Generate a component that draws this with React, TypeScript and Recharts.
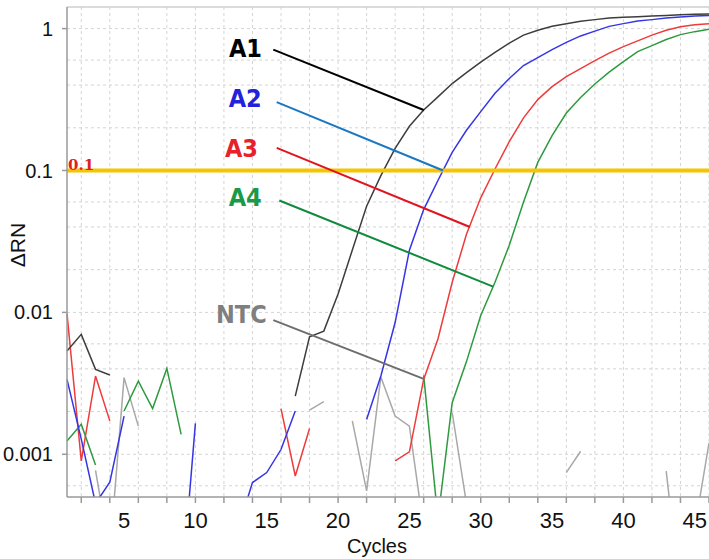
import React from 'react';
import { LineChart, Line, XAxis, YAxis, CartesianGrid, ReferenceLine, ReferenceDot } from 'recharts';

// qPCR amplification plot, ΔRN on a log axis
const cycles = [
  1, 2, 3, 4, 5, 6, 7, 8, 9, 10, 11, 12, 13, 14, 15, 16, 17, 18, 19, 20, 21, 22, 23,
  24, 25, 26, 27, 28, 29, 30, 31, 32, 33, 34, 35, 36, 37, 38, 39, 40, 41, 42, 43, 44, 45, 46,
];

const a1 = [
  0.00534, 0.007, 0.00397, 0.00362, null, null, null, null, null, null, null, null, null, null, null, null,
  0.00257, 0.00674, 0.00738, 0.0135, 0.0275, 0.056, 0.092, 0.143, 0.205, 0.267, 0.33, 0.41, 0.49, 0.58,
  0.68, 0.79, 0.9, 0.975, 1.04, 1.084, 1.127, 1.157, 1.19, 1.2, 1.21, 1.225, 1.239, 1.25, 1.26, 1.27,
];

const a2 = [
  0.00337, 0.00128, 0.00045, 0.000635, 0.00186, null, null, null, 0.0001, 0.00165, null, null, 0.0003, 0.000632,
  0.000743, 0.00108, 0.00202, null, null, null, null, 0.00176, 0.00356, 0.00848, 0.0274, 0.053, 0.085, 0.134,
  0.192, 0.26, 0.35, 0.445, 0.549, 0.625, 0.711, 0.8, 0.888, 0.96, 1.037, 1.084, 1.13, 1.157, 1.186, 1.205,
  1.225, 1.235,
];

const a3 = [
  0.0098, 0.000897, 0.00356, 0.00172, null, null, null, null, null, null, null, null, null, null, null,
  0.0021, 0.000703, 0.00152, null, null, null, null, null, 0.000897, 0.00104, 0.00337, 0.0065, 0.0163, 0.0355,
  0.0642, 0.1025, 0.16, 0.235, 0.316, 0.39, 0.459, 0.523, 0.595, 0.672, 0.747, 0.82, 0.9, 0.975, 1.03, 1.064,
  1.084,
];

const a4 = [
  0.00124, 0.00163, 0.00084, null, 0.00202, 0.00328, 0.0021, 0.00403, 0.00138, null, null, null, null, null,
  null, null, null, null, null, null, null, null, null, null, null, 0.0036, 0.00035, 0.00231, 0.0045, 0.0095,
  0.0163, 0.0297, 0.06, 0.114, 0.176, 0.254, 0.327, 0.407, 0.494, 0.586, 0.689, 0.759, 0.837, 0.907, 0.952, 0.99,
];

const ntc = [
  null, null, 0.00077, 0.0002, 0.00347, 0.00158, null, null, null, null, null, null, null, null, null, null,
  null, 0.00205, 0.00235, null, 0.00172, 0.000552, 0.00351, 0.00186, 0.00158, 0.0003, null, 0.00197, 0.00045,
  null, null, null, null, null, null, 0.000743, 0.00105, null, null, null, null, null, 0.00076, 0.0001, 0.0003,
  0.0012,
];

const xLabelTicks = [5, 10, 15, 20, 25, 30, 35, 40, 45];
const xMarkTicks = [2, 4, 6, 8, 10, 12, 14, 16, 18, 20, 22, 24, 26, 28, 30, 32, 34, 36, 38, 40, 42, 44, 46];
const yTicks = [0.001, 0.01, 0.1, 1];
const yGrid = [
  0.0006, 0.0007, 0.0008, 0.0009, 0.001, 0.002, 0.003, 0.004, 0.005, 0.006, 0.007, 0.008, 0.009,
  0.01, 0.02, 0.03, 0.04, 0.05, 0.06, 0.07, 0.08, 0.09, 0.1, 0.2, 0.3, 0.4, 0.5, 0.6, 0.7, 0.8, 0.9, 1,
];
const threshold = 0.1;
const xDomain = [1, 46];
const yDomain = [0.0005, 1.42];

// callouts: where the text sits, and the leader line from the text to its curve
const callouts = [
  { name: 'A1', text: [14.67, 0.635], from: [15.46, 0.711], to: [26, 0.267], color: '#000000', line: '#000000' },
  { name: 'A2', text: [14.65, 0.281], from: [15.7, 0.303], to: [27.36, 0.1], color: '#2222dd', line: '#1a78c2' },
  { name: 'A3', text: [14.39, 0.1235], from: [15.7, 0.1445], to: [29.24, 0.04], color: '#e8202a', line: '#e0141e' },
  { name: 'A4', text: [14.65, 0.0558], from: [15.88, 0.0615], to: [30.87, 0.0152], color: '#1a9a48', line: '#108a3c' },
  { name: 'NTC', text: [15.0, 0.00846], from: [15.46, 0.00883], to: [26.0, 0.0034], color: '#7f7f7f', line: '#6e6e6e' },
];

const data = cycles.map((c, i) => ({ cycle: c, a1: a1[i], a2: a2[i], a3: a3[i], a4: a4[i], ntc: ntc[i] }));

const tickTicks = Array.from(new Set([...xMarkTicks, ...xLabelTicks])).sort((a, b) => a - b);

const font = "'Liberation Sans', Arial, sans-serif";
const calloutFont = "'Liberation Sans Narrow', 'DejaVu Sans Condensed', 'Liberation Sans', sans-serif";

function CycleTick(props: any) {
  const { x, y, payload } = props;
  const v = payload.value;
  return (
    <g>
      {v % 2 === 0 && <line x1={x} x2={x} y1={y} y2={y + 6} stroke="#9a9a9a" strokeWidth={1.5} />}
      {v % 5 === 0 && (
        <text x={x} y={y + 31} textAnchor="middle" fontSize={22} fontFamily={font} fill="#111">
          {v}
        </text>
      )}
    </g>
  );
}

export default function App() {
  return (
    <div style={{ position: 'absolute', left: 0, top: 0 }}>
      <LineChart width={709} height={559} data={data} margin={{ top: 7, right: 0, bottom: 0, left: 0 }}>
        <CartesianGrid
          strokeDasharray="3 3"
          stroke="#d4d4d4"
          horizontalValues={yGrid}
          verticalValues={xMarkTicks}
        />
        <XAxis
          dataKey="cycle"
          type="number"
          domain={xDomain}
          ticks={tickTicks}
          interval={0}
          height={62}
          tickLine={false}
          tickSize={0}
          tickMargin={0}
          tick={<CycleTick />}
          axisLine={{ stroke: '#9a9a9a', strokeWidth: 1.5 }}
          label={{
            content: (p: any) => (
              <text x={p.viewBox.x + p.viewBox.width / 2 - 11} y={p.viewBox.y + 56} textAnchor="middle"
                fontSize={20} fontFamily={font} fill="#111">Cycles</text>
            ),
          }}
        />
        <YAxis
          type="number"
          scale="log"
          domain={yDomain}
          allowDataOverflow
          ticks={yTicks}
          width={67}
          tickSize={5}
          tickMargin={9}
          tickFormatter={(v: number) => String(v)}
          tick={{ fontSize: 20, fontFamily: font, fill: '#111' }}
          tickLine={{ stroke: '#9a9a9a', strokeWidth: 1.5 }}
          axisLine={{ stroke: '#9a9a9a', strokeWidth: 1.5 }}
          label={{
            content: () => (
              <text x={25} y={245} transform="rotate(-90 25 245)" textAnchor="middle"
                fontSize={21} fontFamily={font} fill="#111">ΔRN</text>
            ),
          }}
        />
        <ReferenceLine y={yDomain[1]} stroke="#cfcfcf" strokeWidth={1.5} />

        <Line type="linear" dataKey="ntc" stroke="#a8a8a8" strokeWidth={1.5} dot={false} isAnimationActive={false} />
        <Line type="linear" dataKey="a4" stroke="#2e9a3e" strokeWidth={1.5} dot={false} isAnimationActive={false} />
        <Line type="linear" dataKey="a3" stroke="#ee3b3b" strokeWidth={1.5} dot={false} isAnimationActive={false} />
        <Line type="linear" dataKey="a2" stroke="#3535e6" strokeWidth={1.5} dot={false} isAnimationActive={false} />
        <Line type="linear" dataKey="a1" stroke="#3d3d3d" strokeWidth={1.5} dot={false} isAnimationActive={false} />

        <ReferenceLine y={threshold} stroke="#f6c400" strokeWidth={4} />
        <ReferenceDot
          x={xDomain[0]}
          y={threshold}
          r={0}
          shape={(p: any) => (
            <text x={p.cx + 1} y={p.cy - 1} fontSize={15} fontWeight="bold" fontFamily="'DejaVu Serif', serif" fill="#e02020">
              0.1
            </text>
          )}
        />

        {callouts.map((c) => (
          <ReferenceLine
            key={c.name + '-line'}
            segment={[{ x: c.from[0], y: c.from[1] }, { x: c.to[0], y: c.to[1] }]}
            stroke={c.line}
            strokeWidth={2}
          />
        ))}
        {callouts.map((c) => (
          <ReferenceDot
            key={c.name + '-text'}
            x={c.text[0]}
            y={c.text[1]}
            r={0}
            shape={(p: any) => (
              <text x={p.cx} y={p.cy} textAnchor="end" fontSize={25} fontWeight="bold" fontFamily={calloutFont} fill={c.color}>
                {c.name}
              </text>
            )}
          />
        ))}
      </LineChart>
    </div>
  );
}
